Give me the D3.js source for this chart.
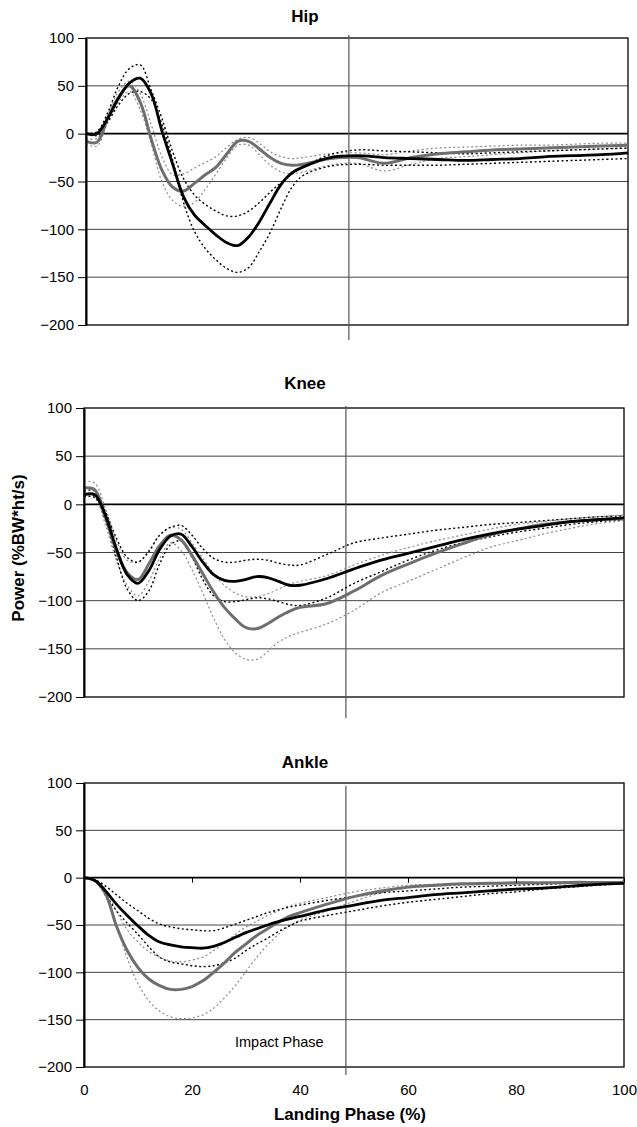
<!DOCTYPE html>
<html lang="en">
<head>
<meta charset="utf-8">
<title>Joint power during landing</title>
<script src="https://cdn.jsdelivr.net/npm/d3@7"></script>
<style>
  body { margin: 0; background: #fff; }
  svg { display: block; font-family: "Liberation Sans", Arial, Helvetica, sans-serif; }
  .axis text { font-size: 15px; fill: #000; }
  .axis line { stroke: #000; }
  .title { font-size: 17px; font-weight: bold; }
</style>
</head>
<body>
<div id="chart"></div>
<script>
// landing phase (%) sample points, shared by every series
const phase = [0, 2, 4, 6, 8, 10, 12, 14, 16, 18, 20, 22, 24, 26, 28, 30, 32, 34, 36, 38, 40,
               45, 50, 55, 60, 65, 70, 75, 80, 85, 90, 95, 100];

// Hip
const hipMean1 = [0, 0, 16, 37, 53, 58, 42, 3, -32, -66, -85, -96, -106, -114, -117, -108, -92, -72, -53, -41, -35,
                  -25, -23, -25, -26, -27, -28, -27, -26, -24, -23, -22, -20];
const hipSd1Hi = [0, 2, 22, 50, 68, 72, 46, 16, -19, -47, -64, -74, -81, -86, -86, -81, -72, -61, -51, -42, -35,
                  -22, -17, -18, -19, -20, -21, -20, -19, -18, -17, -16, -15];
const hipSd1Lo = [0, -2, 12, 30, 42, 44, 36, 10, -28, -72, -102, -120, -132, -141, -145, -140, -123, -103, -78, -56, -44,
                  -34, -32, -33, -33, -33, -32, -31, -30, -29, -28, -27, -26];
const hipMean2 = [-8, -9, 16, 38, 50, 33, -5, -38, -56, -60, -52, -43, -35, -21, -8, -8, -16, -25, -31, -33, -32,
                  -26, -25, -31, -25, -21, -19, -17, -16, -15, -14, -13, -12];
const hipSd2Hi = [-5, -5, 20, 44, 55, 42, 10, -24, -43, -42, -36, -30, -24, -14, -6, -4, -10, -19, -24, -26, -25,
                  -21, -20, -22, -18, -15, -14, -13, -12, -12, -11, -10, -10];
const hipSd2Lo = [-11, -13, 12, 33, 44, 25, -10, -50, -70, -76, -72, -58, -42, -25, -12, -12, -22, -33, -40, -42, -40,
                  -33, -31, -39, -32, -26, -24, -22, -20, -18, -17, -16, -15];

// Knee
const kneeMean1 = [10, 10, -12, -46, -73, -82, -69, -47, -33, -31, -44, -60, -73, -79, -80, -78, -75, -76, -80, -84, -84,
                   -77, -67, -58, -51, -44, -37, -31, -26, -22, -18, -16, -14];
const kneeSd1Hi = [14, 14, -8, -35, -55, -60, -49, -32, -24, -22, -32, -46, -56, -60, -60, -58, -57, -58, -61, -63, -63,
                   -52, -40, -35, -31, -27, -24, -21, -19, -17, -15, -13, -12];
const kneeSd1Lo = [8, 7, -17, -55, -88, -100, -90, -62, -42, -38, -55, -78, -95, -101, -101, -99, -97, -98, -101, -104, -105,
                   -97, -82, -70, -58, -48, -40, -34, -29, -25, -21, -18, -16];
const kneeMean2 = [17, 15, -14, -48, -71, -78, -62, -43, -32, -37, -53, -72, -91, -107, -119, -128, -129, -124, -117, -111, -107,
                   -103, -90, -74, -62, -51, -41, -32, -26, -21, -18, -16, -15];
const kneeSd2Hi = [24, 22, -5, -38, -58, -60, -48, -32, -24, -26, -40, -56, -72, -84, -92, -96, -96, -93, -88, -83, -80,
                   -74, -63, -53, -45, -38, -32, -26, -21, -18, -15, -13, -11];
const kneeSd2Lo = [12, 8, -22, -58, -84, -95, -80, -56, -40, -48, -68, -92, -118, -140, -154, -161, -161, -153, -143, -137, -133,
                   -124, -110, -92, -80, -68, -56, -45, -38, -31, -25, -20, -17];

// Ankle
const ankleMean1 = [0, -3, -14, -28, -40, -51, -61, -68, -71, -73, -74, -74.5, -72.5, -68.5, -63, -58, -54, -50, -46.5, -43.5, -41,
                    -34, -29, -24, -21, -18, -16, -14, -12, -11, -9, -7, -6];
const ankleSd1Hi = [0, -2, -9, -18, -27, -35, -43, -49, -52, -54, -55, -56, -56, -53, -49, -45, -41, -37, -34, -31, -29,
                    -24, -20, -16, -14, -12, -10, -9, -8, -7, -6, -5, -4];
const ankleSd1Lo = [0, -3, -18, -35, -48, -60, -73, -84, -89, -91, -93, -94, -93, -90, -85, -77, -70, -64, -57, -51, -46,
                    -40, -35, -30, -26, -23, -20, -17, -15, -12, -10, -8, -6];
const ankleMean2 = [0, -3, -17, -51, -77, -95, -107, -114, -118, -118, -115, -109, -100, -90, -79, -70, -61, -54, -47, -41, -37,
                    -28, -20, -14, -10, -8, -6.5, -6, -5.5, -5.5, -5, -5, -5];
const ankleSd2Hi = [0, -2, -13, -35, -55, -68, -78, -84, -88, -89, -87, -84, -77, -69, -60, -52, -46, -40, -35, -30, -27,
                    -21, -15, -11, -8, -7, -6, -5.5, -5, -5, -4.5, -4.5, -4];
const ankleSd2Lo = [0, -4, -20, -50, -85, -112, -130, -141, -147, -149, -148, -145, -138, -127, -114, -99, -84, -71, -60, -51, -45,
                    -35, -25, -16, -11, -9, -8, -7, -6.5, -6, -6, -5.5, -5];

const yTicks = [100, 50, 0, -50, -100, -150, -200];
const xTicks = [0, 20, 40, 60, 80, 100];
const impactEnd = 48.5;

const panels = [
  {name: 'Hip', series: [hipSd2Hi, hipSd2Lo, hipSd1Hi, hipSd1Lo, hipMean2, hipMean1],
   left: 86, right: 628, top: 38, bottom: 325, titleY: 22, lineTop: 35, lineBottom: 340},
  {name: 'Knee', series: [kneeSd2Hi, kneeSd2Lo, kneeSd1Hi, kneeSd1Lo, kneeMean2, kneeMean1],
   left: 84, right: 624, top: 408, bottom: 697, titleY: 389, lineTop: 406, lineBottom: 718},
  {name: 'Ankle', series: [ankleSd2Hi, ankleSd2Lo, ankleSd1Hi, ankleSd1Lo, ankleMean2, ankleMean1],
   left: 84, right: 624, top: 783, bottom: 1067, titleY: 768, lineTop: 786, lineBottom: 1075}
];

// order matches the series lists above
const styles = [
  {stroke: '#8a8a8a', width: 1.2, dash: '2,2.5'},
  {stroke: '#8a8a8a', width: 1.2, dash: '2,2.5'},
  {stroke: '#000', width: 1.4, dash: '2,2.5'},
  {stroke: '#000', width: 1.4, dash: '2,2.5'},
  {stroke: '#6e6e6e', width: 3, dash: null},
  {stroke: '#000', width: 2.8, dash: null}
];

const svg = d3.select('#chart').append('svg')
  .attr('width', 637)
  .attr('height', 1127);

panels.forEach(p => {
  const x = d3.scaleLinear().domain([0, 100]).range([p.left, p.right]);
  const y = d3.scaleLinear().domain([-200, 100]).range([p.bottom, p.top]);
  const g = svg.append('g');

  // gridlines
  g.selectAll('line.grid')
    .data(yTicks.filter(v => v !== 100 && v !== -200))
    .join('line')
      .attr('class', 'grid')
      .attr('x1', p.left).attr('x2', p.right)
      .attr('y1', d => y(d)).attr('y2', d => y(d))
      .attr('stroke', d => d === 0 ? '#000' : '#444')
      .attr('stroke-width', d => d === 0 ? 1.6 : 1);

  // plot frame
  g.append('rect')
    .attr('x', p.left).attr('y', p.top)
    .attr('width', p.right - p.left).attr('height', p.bottom - p.top)
    .attr('fill', 'none').attr('stroke', '#000').attr('stroke-width', 1.3);

  // end of impact phase
  g.append('line')
    .attr('x1', x(impactEnd)).attr('x2', x(impactEnd))
    .attr('y1', p.lineTop).attr('y2', p.lineBottom)
    .attr('stroke', '#555').attr('stroke-width', 1.2);

  // curves
  const line = d3.line()
    .x((d, j) => x(phase[j]))
    .y(d => y(d))
    .curve(d3.curveCatmullRom.alpha(0.5));

  p.series.forEach((s, k) => {
    g.append('path')
      .attr('d', line(s))
      .attr('fill', 'none')
      .attr('stroke', styles[k].stroke)
      .attr('stroke-width', styles[k].width)
      .attr('stroke-dasharray', styles[k].dash)
      .attr('stroke-linejoin', 'round');
  });

  // y axis
  const yAxis = g.append('g')
    .attr('class', 'axis')
    .attr('transform', `translate(${p.left},0)`)
    .call(d3.axisLeft(y).tickValues(yTicks).tickSize(8).tickSizeOuter(0).tickPadding(4));
  yAxis.select('.domain').attr('stroke', '#000').attr('stroke-width', 2);

  // title
  g.append('text')
    .attr('class', 'title')
    .attr('x', 305).attr('y', p.titleY)
    .attr('text-anchor', 'middle')
    .text(p.name);

  if (p.name === 'Ankle') {
    // tick marks sit on the zero line
    const zeroAxis = g.append('g')
      .attr('class', 'axis')
      .attr('transform', `translate(0,${y(0)})`)
      .call(d3.axisBottom(x).tickValues(xTicks.slice(1)).tickSize(5).tickFormat(''));
    zeroAxis.select('.domain').remove();

    // labels below the frame
    const xAxis = g.append('g')
      .attr('class', 'axis')
      .attr('transform', `translate(0,${p.bottom})`)
      .call(d3.axisBottom(x).tickValues(xTicks).tickSize(0).tickPadding(17));
    xAxis.select('.domain').remove();

    g.append('text')
      .attr('x', 235).attr('y', 1047)
      .attr('font-size', 14.5)
      .text('Impact Phase');

    g.append('text')
      .attr('class', 'title')
      .attr('x', 350).attr('y', 1120)
      .attr('text-anchor', 'middle')
      .attr('font-size', 18)
      .text('Landing Phase (%)');
  }
});

// shared y axis title
svg.append('text')
  .attr('class', 'title')
  .attr('transform', 'translate(24,548) rotate(-90)')
  .attr('text-anchor', 'middle')
  .attr('font-size', 18)
  .text('Power (%BW*ht/s)');
</script>
</body>
</html>
